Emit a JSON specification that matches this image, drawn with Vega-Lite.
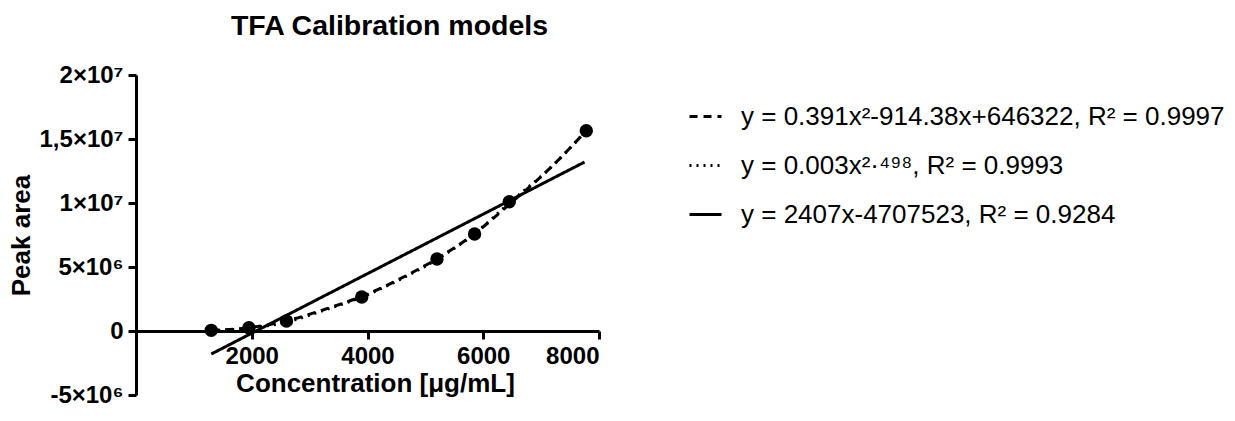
{
  "$schema": "https://vega.github.io/schema/vega-lite/v6.json",
  "width": 463,
  "height": 320,
  "autosize": "none",
  "padding": {"left": 136, "top": 75, "right": 636, "bottom": 26},
  "background": "white",
  "config": {
    "font": "Liberation Sans",
    "view": {"stroke": null},
    "axis": {
      "grid": false,
      "domainColor": "black",
      "domainWidth": 3,
      "tickColor": "black",
      "tickWidth": 3,
      "tickSize": 8,
      "labelColor": "black",
      "labelFont": "Liberation Sans",
      "labelFontWeight": "bold",
      "labelFontSize": 24,
      "titleColor": "black",
      "titleFont": "Liberation Sans",
      "titleFontWeight": "bold",
      "titleFontSize": 26
    }
  },
  "title": {
    "text": "TFA Calibration models",
    "font": "Liberation Sans",
    "fontSize": 28.5,
    "fontWeight": "bold",
    "color": "black",
    "anchor": "middle",
    "dx": 22,
    "offset": 23
  },
  "datasets": {
    "pts": [
      {"conc": 1300, "area": 50000},
      {"conc": 1950, "area": 250000},
      {"conc": 2600, "area": 780000},
      {"conc": 3900, "area": 2660000},
      {"conc": 5200, "area": 5620000},
      {"conc": 5850, "area": 7580000},
      {"conc": 6450, "area": 10100000},
      {"conc": 7780, "area": 15650000}
    ],
    "fits": [
      {"model": "y = 0.391x²-914.38x+646322, R² = 0.9997", "conc": 1300, "area": 60000},
      {"model": "y = 0.391x²-914.38x+646322, R² = 0.9997", "conc": 1950, "area": 250000},
      {"model": "y = 0.391x²-914.38x+646322, R² = 0.9997", "conc": 2600, "area": 800000},
      {"model": "y = 0.391x²-914.38x+646322, R² = 0.9997", "conc": 3300, "area": 1750000},
      {"model": "y = 0.391x²-914.38x+646322, R² = 0.9997", "conc": 3900, "area": 2700000},
      {"model": "y = 0.391x²-914.38x+646322, R² = 0.9997", "conc": 4550, "area": 4050000},
      {"model": "y = 0.391x²-914.38x+646322, R² = 0.9997", "conc": 5200, "area": 5650000},
      {"model": "y = 0.391x²-914.38x+646322, R² = 0.9997", "conc": 5850, "area": 7600000},
      {"model": "y = 0.391x²-914.38x+646322, R² = 0.9997", "conc": 6450, "area": 9900000},
      {"model": "y = 0.391x²-914.38x+646322, R² = 0.9997", "conc": 7150, "area": 12700000},
      {"model": "y = 0.391x²-914.38x+646322, R² = 0.9997", "conc": 7780, "area": 15650000},
      {"model": "y = 0.003x²·⁴⁹⁸, R² = 0.9993", "conc": 1300, "area": 40000},
      {"model": "y = 0.003x²·⁴⁹⁸, R² = 0.9993", "conc": 1950, "area": 220000},
      {"model": "y = 0.003x²·⁴⁹⁸, R² = 0.9993", "conc": 2600, "area": 700000},
      {"model": "y = 0.003x²·⁴⁹⁸, R² = 0.9993", "conc": 3300, "area": 1700000},
      {"model": "y = 0.003x²·⁴⁹⁸, R² = 0.9993", "conc": 3900, "area": 2650000},
      {"model": "y = 0.003x²·⁴⁹⁸, R² = 0.9993", "conc": 4550, "area": 4000000},
      {"model": "y = 0.003x²·⁴⁹⁸, R² = 0.9993", "conc": 5200, "area": 5600000},
      {"model": "y = 0.003x²·⁴⁹⁸, R² = 0.9993", "conc": 5850, "area": 7600000},
      {"model": "y = 0.003x²·⁴⁹⁸, R² = 0.9993", "conc": 6450, "area": 10000000},
      {"model": "y = 0.003x²·⁴⁹⁸, R² = 0.9993", "conc": 7150, "area": 12700000},
      {"model": "y = 0.003x²·⁴⁹⁸, R² = 0.9993", "conc": 7780, "area": 15650000},
      {"model": "y = 2407x-4707523, R² = 0.9284", "conc": 1300, "area": -1800000},
      {"model": "y = 2407x-4707523, R² = 0.9284", "conc": 7750, "area": 13200000}
    ]
  },
  "layer": [
    {
      "data": {"name": "fits"},
      "mark": {"type": "line", "interpolate": "monotone", "strokeWidth": 3, "color": "black"},
      "encoding": {
        "x": {
          "field": "conc",
          "type": "quantitative",
          "scale": {"domain": [0, 8000], "nice": false, "zero": false},
          "axis": {
            "values": [2000, 4000, 6000, 8000],
            "format": "d",
            "offset": -64,
            "labelPadding": 5,
            "title": "Concentration [μg/mL]",
            "titlePadding": 2,
            "titleX": 239
          }
        },
        "y": {
          "field": "area",
          "type": "quantitative",
          "scale": {"domain": [-5000000, 20000000], "nice": false},
          "axis": {
            "values": [-5000000, 0, 5000000, 10000000, 15000000, 20000000],
            "labelExpr": "datum.value == 20000000 ? '2×10⁷' : datum.value == 15000000 ? '1,5×10⁷' : datum.value == 10000000 ? '1×10⁷' : datum.value == 5000000 ? '5×10⁶' : datum.value == 0 ? '0' : '-5×10⁶'",
            "labelPadding": 5,
            "title": "Peak area",
            "titlePadding": 5
          }
        },
        "strokeDash": {
          "field": "model",
          "type": "nominal",
          "scale": {
            "domain": ["y = 0.391x²-914.38x+646322, R² = 0.9997", "y = 0.003x²·⁴⁹⁸, R² = 0.9993", "y = 2407x-4707523, R² = 0.9284"],
            "range": [[8, 6], [2, 5], [1, 0]]
          },
          "legend": {
            "orient": "none",
            "legendX": 552,
            "legendY": 24,
            "title": null,
            "symbolType": "stroke",
            "symbolStrokeWidth": 3,
            "symbolStrokeColor": "black",
            "symbolSize": 1024,
            "labelFont": "Liberation Sans",
            "labelFontSize": 26,
            "labelColor": "black",
            "labelOffset": 18,
            "rowPadding": 18,
            "labelLimit": 700
          }
        }
      }
    },
    {
      "data": {"name": "pts"},
      "mark": {"type": "circle", "size": 180, "color": "black", "opacity": 1},
      "encoding": {
        "x": {"field": "conc", "type": "quantitative"},
        "y": {"field": "area", "type": "quantitative"}
      }
    }
  ]
}
